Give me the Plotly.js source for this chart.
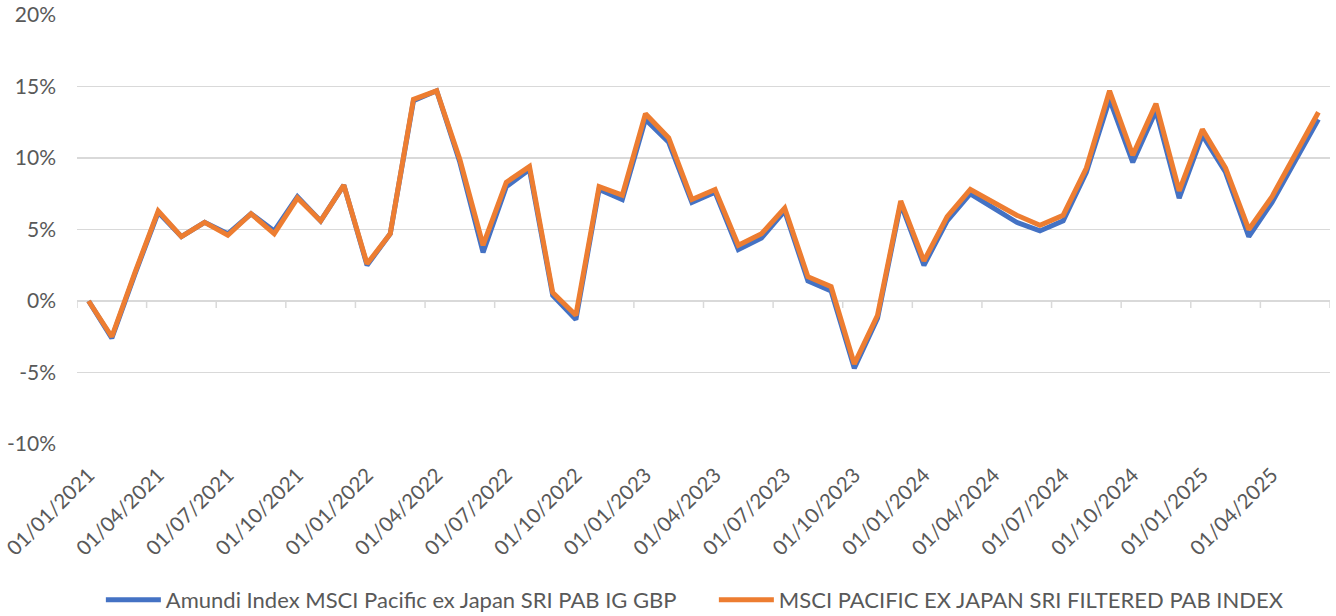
<!DOCTYPE html>
<html>
<head>
<meta charset="utf-8">
<script src="https://cdn.plot.ly/plotly-3.0.1.min.js"></script>
<style>html,body{margin:0;padding:0;background:#fff;}#chart{width:1336px;height:616px;}</style>
</head>
<body>
<div id="chart"></div>
<script>
const dates = [
 "01/01/2021","01/02/2021","01/03/2021","01/04/2021","01/05/2021","01/06/2021","01/07/2021","01/08/2021","01/09/2021","01/10/2021","01/11/2021","01/12/2021",
 "01/01/2022","01/02/2022","01/03/2022","01/04/2022","01/05/2022","01/06/2022","01/07/2022","01/08/2022","01/09/2022","01/10/2022","01/11/2022","01/12/2022",
 "01/01/2023","01/02/2023","01/03/2023","01/04/2023","01/05/2023","01/06/2023","01/07/2023","01/08/2023","01/09/2023","01/10/2023","01/11/2023","01/12/2023",
 "01/01/2024","01/02/2024","01/03/2024","01/04/2024","01/05/2024","01/06/2024","01/07/2024","01/08/2024","01/09/2024","01/10/2024","01/11/2024","01/12/2024",
 "01/01/2025","01/02/2025","01/03/2025","01/04/2025","01/05/2025","01/06/2025"
];
const amundi = [
 0.0,-2.6,1.9,6.2,4.5,5.5,4.7,6.1,4.9,7.3,5.6,8.1,
 2.5,4.7,14.0,14.7,9.7,3.4,8.0,9.2,0.4,-1.3,7.8,7.1,
 12.7,11.1,6.9,7.6,3.6,4.4,6.3,1.4,0.7,-4.7,-1.2,6.8,
 2.5,5.6,7.5,6.5,5.5,4.9,5.6,9.0,14.1,9.7,13.3,7.2,
 11.6,9.0,4.5,6.9,9.8,12.7
];
const msci = [
 0.0,-2.5,2.0,6.3,4.5,5.5,4.6,6.1,4.7,7.2,5.6,8.1,
 2.6,4.7,14.1,14.7,9.9,3.9,8.3,9.4,0.6,-1.0,8.0,7.4,
 13.1,11.4,7.1,7.8,3.9,4.7,6.5,1.7,1.0,-4.4,-1.0,7.0,
 2.8,5.9,7.8,6.9,6.0,5.3,6.0,9.3,14.7,10.2,13.8,7.7,
 12.0,9.3,5.0,7.3,10.2,13.2
];
const names = ["Amundi Index MSCI Pacific ex Japan SRI PAB IG GBP","MSCI PACIFIC EX JAPAN SRI FILTERED PAB INDEX"];
const yTicks = [-10,-5,0,5,10,15,20];
const yTickText = ["-10%","-5%","0%","5%","10%","15%","20%"];

const labelStep = 3;
const tickDates = dates.filter((d,i)=> i % labelStep === 0);
const boundaries = [];
for (let i = 0; i <= dates.length; i += labelStep) boundaries.push(i - 0.5);

const fam = "Lato, Liberation Sans, Arial, sans-serif";
const yFont = {family: fam, size: 21, color: "#595959"};
const xFont = {family: fam, size: 20.5, color: "#595959"};
const legFont = {family: fam, size: 22, color: "#595959"};
const grid = "#d9d9d9";

const traces = [
 {x: dates, y: amundi, name: names[0], type: "scatter", mode: "lines",
  line: {color: "#4472C4", width: 5}},
 {x: dates, y: msci, name: names[1], type: "scatter", mode: "lines",
  line: {color: "#ED7D31", width: 5}}
];

const shapes = boundaries.map(b => ({
 type: "line", xref: "x", yref: "y", ysizemode: "pixel", yanchor: 0,
 x0: b, x1: b, y0: 0, y1: -7, layer: "below", line: {color: grid, width: 1.5}
}));

const layout = {
 width: 1336, height: 616,
 margin: {l: 77, r: 6, t: 15, b: 172},
 paper_bgcolor: "#fff", plot_bgcolor: "#fff",
 font: yFont,
 showlegend: true,
 legend: {orientation: "h", xref: "container", yref: "container", x: 0.0755, y: 0.026,
  xanchor: "left", yanchor: "middle", font: legFont, traceorder: "normal",
  itemwidth: 55, entrywidth: 543},
 xaxis: {type: "category", range: [-0.5, dates.length - 0.5], tickmode: "array",
  tickvals: tickDates, ticktext: tickDates, tickangle: -45, showgrid: false,
  zeroline: false, showline: false, ticks: "", tickfont: xFont, ticklabelstandoff: 14,
  automargin: false},
 yaxis: {range: [-10, 20], tickmode: "array", tickvals: yTicks, ticktext: yTickText,
  showgrid: true, gridcolor: grid, gridwidth: 1.5, zeroline: false, showline: false,
  ticks: "", tickfont: yFont, ticklabelstandoff: 20, automargin: false},
 shapes: shapes
};

Plotly.newPlot("chart", traces, layout, {displayModeBar: false, staticPlot: true});
</script>
</body>
</html>
